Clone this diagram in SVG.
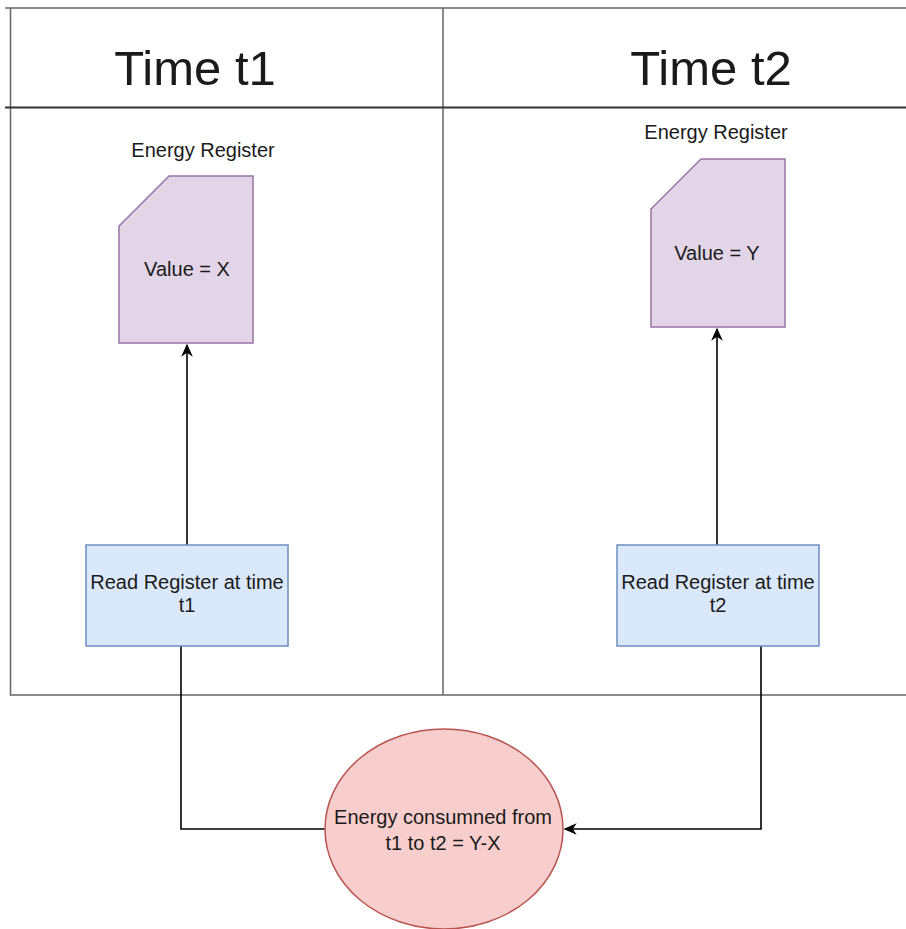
<svg xmlns="http://www.w3.org/2000/svg" width="906" height="929" viewBox="0 0 906 929">
<style>
text{font-family:"Liberation Sans",Arial,sans-serif;fill:#1a1a1a;text-anchor:middle}
.frame{fill:none;stroke:#666;stroke-width:1.5}
.head{fill:none;stroke:#333;stroke-width:2}
.title{font-size:49px}
.lbl{font-size:20px}
.reg{fill:#e1d5e7;stroke:#9673a6;stroke-width:1.5}
.box{fill:#dae8fc;stroke:#6c8ebf;stroke-width:1.5}
.circ{fill:#f8cecc;stroke:#b85450;stroke-width:1.5}
.edge{fill:none;stroke:#000;stroke-width:1.6}
</style>
<defs>
<marker id="ah" viewBox="0 0 10 10" refX="9" refY="5" markerWidth="13" markerHeight="13" markerUnits="userSpaceOnUse" orient="auto">
<path d="M0,0.5 L10,5 L0,9.5 L3,5 Z" fill="#000"/>
</marker>
</defs>
<g id="frame">
<path class="frame" d="M5,8 H906 M10.5,8 V695 H906 M443,8 V695"/>
<path class="head" d="M5,107.5 H906"/>
<text class="title" x="195" y="85">Time t1</text>
<text class="title" x="711" y="85">Time t2</text>
</g>
<g id="connectors">
<path class="edge" d="M187,545 V345" marker-end="url(#ah)"/>
<path class="edge" d="M717,545 V329" marker-end="url(#ah)"/>
<path class="edge" d="M181,646 V829 H325"/>
<path class="edge" d="M761,646 V829 H565" marker-end="url(#ah)"/>
</g>
<g id="register1">
<text class="lbl" x="203" y="157">Energy Register</text>
<path class="reg" d="M169,176 H253 V343 H119 V226 Z"/>
<text class="lbl" x="187" y="276">Value = X</text>
</g>
<g id="register2">
<text class="lbl" x="716" y="139">Energy Register</text>
<path class="reg" d="M701,159 H785 V327 H651 V209 Z"/>
<text class="lbl" x="717" y="260">Value = Y</text>
</g>
<g id="read1">
<rect class="box" x="86" y="545" width="202" height="101"/>
<text class="lbl" x="187" y="589">Read Register at time</text>
<text class="lbl" x="187" y="612">t1</text>
</g>
<g id="read2">
<rect class="box" x="617" y="545" width="202" height="101"/>
<text class="lbl" x="718" y="589">Read Register at time</text>
<text class="lbl" x="718" y="612">t2</text>
</g>
<g id="energy">
<ellipse class="circ" cx="444" cy="829" rx="119" ry="100"/>
<text class="lbl" x="443" y="824">Energy consumned from</text>
<text class="lbl" x="443" y="850">t1 to t2 = Y-X</text>
</g>
</svg>
